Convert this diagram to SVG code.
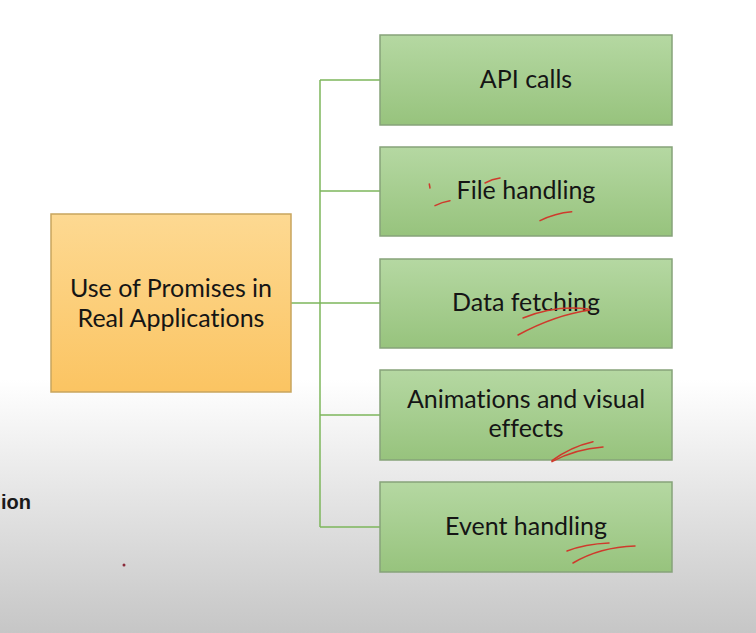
<svg xmlns="http://www.w3.org/2000/svg" width="756" height="633" viewBox="0 0 756 633">
<defs>
<linearGradient id="bg" x1="0" y1="0" x2="0" y2="1">
<stop offset="0" stop-color="#ffffff"/>
<stop offset="0.6" stop-color="#ffffff"/>
<stop offset="1" stop-color="#c6c6c6"/>
</linearGradient>
<linearGradient id="gf" x1="0" y1="0" x2="0" y2="1">
<stop offset="0" stop-color="#b5d8a2"/>
<stop offset="1" stop-color="#97c37d"/>
</linearGradient>
<linearGradient id="of" x1="0" y1="0" x2="0" y2="1">
<stop offset="0" stop-color="#fdd992"/>
<stop offset="1" stop-color="#fbc462"/>
</linearGradient>
<style>
.g{fill:url(#gf);stroke:#86a37a;stroke-width:1.5}
.o{fill:url(#of);stroke:#c8a55e;stroke-width:1.5}
.t{font-family:Lato,"Open Sans",sans-serif;font-size:25px;fill:#151515;text-anchor:middle;font-variant-ligatures:none}
.c{stroke:#7db65c;stroke-width:1.5;fill:none}
.r{stroke:#cf3a2c;stroke-width:1.5;fill:none;stroke-linecap:round}
</style>
</defs>
<rect width="756" height="633" fill="url(#bg)"/>
<g id="connectors">
<path class="c" d="M291 303H380M320 80V527M320 80H380M320 191H380M320 415H380M320 527H380"/>
</g>
<g id="root">
<rect class="o" x="51" y="214" width="240" height="178"/>
<text class="t" x="171" y="297">Use of Promises in</text>
<text class="t" x="171" y="327">Real Applications</text>
</g>
<g id="n1">
<rect class="g" x="380" y="35" width="292" height="90"/>
<text class="t" x="526" y="88">API calls</text>
</g>
<g id="n2">
<rect class="g" x="380" y="147" width="292" height="89"/>
<text class="t" x="526" y="199">File handling</text>
</g>
<g id="n3">
<rect class="g" x="380" y="259" width="292" height="89"/>
<text class="t" x="526" y="311">Data fetching</text>
</g>
<g id="n4">
<rect class="g" x="380" y="370" width="292" height="90"/>
<text class="t" x="526" y="408">Animations and visual</text>
<text class="t" x="526" y="437">effects</text>
</g>
<g id="n5">
<rect class="g" x="380" y="482" width="292" height="90"/>
<text class="t" x="526" y="535">Event handling</text>
</g>
<text x="31" y="509" font-family="'Liberation Sans',Arial,sans-serif" font-weight="bold" font-size="20" fill="#1a1a1a" text-anchor="end">ion</text>
<g id="annotations">
<path class="r" d="M429.3 184L430 188"/>
<path class="r" d="M435 205.7Q442 202 450 200.7"/>
<path class="r" d="M485 183Q492 179 500 178"/>
<path class="r" d="M540 220.7Q555 213 571.7 211.7"/>
<path class="r" d="M523 318Q555 305 588 309"/>
<path class="r" d="M518 335Q555 315 590 310"/>
<path class="r" d="M552 460.7Q570 447 593 441.7"/>
<path class="r" d="M552 461.7Q575 449 603 447"/>
<path class="r" d="M567 551Q585 544 609 543"/>
<path class="r" d="M573 563Q600 547 635 546"/>
<circle cx="124" cy="565" r="1.5" fill="#8b2a3a"/>
</g>
</svg>
